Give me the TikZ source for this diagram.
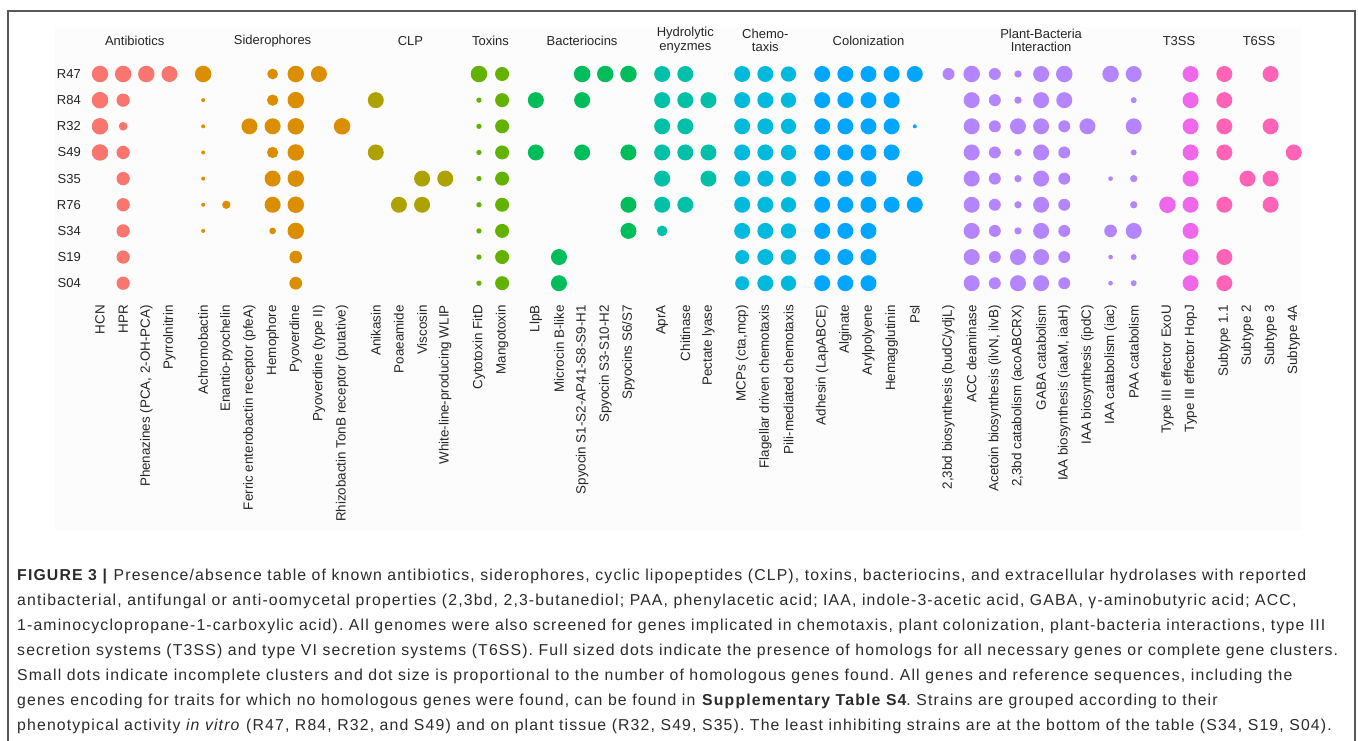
\documentclass[tikz,border=0pt]{standalone}
\usepackage{fontspec}
\setmainfont{Liberation Sans}
\newfontfamily\capfont[LetterSpace=7.3]{Liberation Sans}
\frenchspacing
\definecolor{g0}{HTML}{F8766D}
\definecolor{g1}{HTML}{DB8E00}
\definecolor{g2}{HTML}{AEA200}
\definecolor{g3}{HTML}{64B200}
\definecolor{g4}{HTML}{00BD5C}
\definecolor{g5}{HTML}{00C1A7}
\definecolor{g6}{HTML}{00BADE}
\definecolor{g7}{HTML}{00A6FF}
\definecolor{g8}{HTML}{B385FF}
\definecolor{g9}{HTML}{EF67EB}
\definecolor{g10}{HTML}{FF63B6}
\definecolor{txt}{HTML}{262626}
\definecolor{captext}{HTML}{2B2B2B}
\begin{document}
\begin{tikzpicture}[x=1pt,y=-1pt,
  dotn/.style={circle,inner sep=0pt,minimum size=#1,draw=none},
  rowlab/.style={anchor=east,inner sep=0pt,font=\fontsize{13}{15}\selectfont,text=txt},
  collab/.style={rotate=90,anchor=east,inner sep=0pt,font=\fontsize{13.4}{15}\selectfont,text=txt},
  grplab/.style={align=center,inner sep=0pt,font=\fontsize{13}{13.5}\selectfont,text=txt},
  captxt/.style={anchor=base west,inner sep=0pt,font=\capfont\fontsize{15.8}{18}\selectfont,text=captext}]
\useasboundingbox (0,0) rectangle (1358,740);
\fill[white] (0,0) rectangle (1358,740);
\fill[black!1] (55,27) rectangle (1302,530);
\draw[black!65,line width=1.3pt] (8,741) |- (1355,11) -- (1355,741);

% row labels
\foreach \lab [count=\i from 0] in {R47,R84,R32,S49,S35,R76,S34,S19,S04}
  \node[rowlab] (r\i) at (81,{74+26.15*\i}) {\lab};

% group labels
\node[grplab] (gl0) at (134.7,40.7) {Antibiotics};
\node[grplab] (gl1) at (272.6,40.7) {Siderophores};
\node[grplab] (gl2) at (410.5,40.7) {CLP};
\node[grplab] (gl3) at (490.5,40.7) {Toxins};
\node[grplab] (gl4) at (582.1,40.7) {Bacteriocins};
\node[grplab] (gl5) at (685.3,40.2) {Hydrolytic\\enyzmes};
\node[grplab] (gl6) at (765.3,40.2) {Chemo-\\taxis};
\node[grplab] (gl7) at (868.5,40.7) {Colonization};
\node[grplab] (gl8) at (1041.1,40.2) {Plant-Bacteria\\Interaction};
\node[grplab] (gl9) at (1179.0,40.7) {T3SS};
\node[grplab] (gl10) at (1259.0,40.7) {T6SS};

% column labels
\foreach \k/\g/\lab in {
 0/0/{HCN},1/0/{HPR},2/0/{Phenazines (PCA, 2-OH-PCA)},3/0/{Pyrrolnitrin},
 4/1/{Achromobactin},5/1/{Enantio-pyochelin},6/1/{Ferric enterobactin receptor (pfeA)},
 7/1/{Hemophore},8/1/{Pyoverdine},9/1/{Pyoverdine (type II)},10/1/{Rhizobactin TonB receptor (putative)},
 11/2/{Anikasin},12/2/{Poaeamide},13/2/{Viscosin},14/2/{White-line-producing WLIP},
 15/3/{Cytotoxin FitD},16/3/{Mangotoxin},
 17/4/{LlpB},18/4/{Microcin B-like},19/4/{Spyocin S1-S2-AP41-S8-S9-H1},20/4/{Spyocin S3-S10-H2},21/4/{Spyocins S6/S7},
 22/5/{AprA},23/5/{Chitinase},24/5/{Pectate lyase},
 25/6/{MCPs (cta,mcp)},26/6/{Flagellar driven chemotaxis},27/6/{Pili-mediated chemotaxis},
 28/7/{Adhesin (LapABCE)},29/7/{Alginate},30/7/{Arylpolyene},31/7/{Hemagglutinin},32/7/{Psl},
 33/8/{2,3bd biosynthesis (budC/ydjL)},34/8/{ACC deaminase},35/8/{Acetoin biosynthesis (ilvN, ilvB)},
 36/8/{2,3bd catabolism (acoABCRX)},37/8/{GABA catabolism},38/8/{IAA biosynthesis (iaaM, iaaH)},
 39/8/{IAA biosynthesis (ipdC)},40/8/{IAA catabolism (iac)},41/8/{PAA catabolism},
 42/9/{Type III effector ExoU},43/9/{Type III effector HopJ},
 44/10/{Subtype 1.1},45/10/{Subtype 2},46/10/{Subtype 3},47/10/{Subtype 4A}}
{
  \pgfmathsetmacro\cx{100+23.15*\k+10.57*\g}
  \node[collab] (l\k) at (\cx,305) {\lab};
}

% dots: row/column/group/diameter
\foreach \r/\k/\g/\d in {
 0/0/0/16.5,0/1/0/16.5,0/2/0/16.5,0/3/0/16,
 0/4/1/16.5,0/7/1/10.7,0/8/1/16.5,0/9/1/16,
 0/15/3/16.5,0/16/3/14,
 0/19/4/16.5,0/20/4/16.5,0/21/4/16.5,
 0/22/5/16,0/23/5/16,
 0/25/6/16,0/26/6/16,0/27/6/15.3,
 0/28/7/16,0/29/7/16,0/30/7/16,0/31/7/16,0/32/7/16,
 0/33/8/12,0/34/8/16.5,0/35/8/12,0/36/8/7.3,0/37/8/16,0/38/8/16.5,0/40/8/16.5,0/41/8/16,
 0/43/9/16,0/44/10/16,0/46/10/16,
 1/0/0/16.5,1/1/0/13.3,
 1/4/1/4,1/7/1/11.3,1/8/1/16.5,
 1/11/2/16,
 1/15/3/5.3,1/16/3/14,
 1/17/4/16,1/19/4/16,
 1/22/5/16,1/23/5/16,1/24/5/16,
 1/25/6/16,1/26/6/16,1/27/6/15.3,
 1/28/7/16,1/29/7/16,1/30/7/16,1/31/7/16,
 1/34/8/16,1/35/8/12,1/36/8/7.3,1/37/8/16,1/38/8/16,1/41/8/6,
 1/43/9/16,1/44/10/16,
 2/0/0/16.5,2/1/0/8.7,
 2/4/1/4,2/6/1/16,2/7/1/16,2/8/1/16.5,2/10/1/16.5,
 2/15/3/5.3,2/16/3/14,
 2/22/5/16,2/23/5/16,
 2/25/6/16,2/26/6/16,2/27/6/15.3,
 2/28/7/16,2/29/7/16,2/30/7/16,2/31/7/16,2/32/7/4,
 2/34/8/16,2/35/8/12,2/36/8/16,2/37/8/16,2/38/8/12,2/39/8/16,2/41/8/16,
 2/43/9/16,2/44/10/16,2/46/10/16,
 3/0/0/16.5,3/1/0/13.3,
 3/4/1/4,3/7/1/11.3,3/8/1/16.5,
 3/11/2/16,
 3/15/3/5.3,3/16/3/14,
 3/17/4/16,3/19/4/16,3/21/4/16,
 3/22/5/16,3/23/5/16,3/24/5/16,
 3/25/6/16,3/26/6/16,3/27/6/15.3,
 3/28/7/16,3/29/7/16,3/30/7/16,3/31/7/16,
 3/34/8/16,3/35/8/12,3/36/8/7.3,3/37/8/16,3/38/8/12,3/41/8/6,
 3/43/9/16,3/44/10/16,3/47/10/16,
 4/1/0/13.3,
 4/4/1/4,4/7/1/16,4/8/1/16.5,
 4/13/2/16,4/14/2/16,
 4/15/3/5.3,4/16/3/14,
 4/22/5/16,4/24/5/16,
 4/25/6/16,4/26/6/16,4/27/6/15.3,
 4/28/7/16,4/29/7/16,4/30/7/16,4/32/7/16,
 4/34/8/16,4/35/8/12,4/36/8/7.3,4/37/8/16,4/38/8/12,4/40/8/4.7,4/41/8/7.3,
 4/43/9/16,4/45/10/16,4/46/10/16,
 5/1/0/13.3,
 5/4/1/4,5/5/1/8.3,5/7/1/16,5/8/1/16.5,
 5/12/2/16,5/13/2/16,
 5/15/3/5.3,5/16/3/14,
 5/21/4/16,
 5/22/5/16,5/23/5/16,
 5/25/6/16,5/26/6/16,5/27/6/15.3,
 5/28/7/16,5/29/7/16,5/30/7/16,5/31/7/16,5/32/7/16,
 5/34/8/16,5/35/8/12,5/36/8/7.3,5/37/8/16,5/38/8/12,5/41/8/7.3,
 5/42/9/16.5,5/43/9/16,5/44/10/16,5/46/10/16,
 6/1/0/13.3,
 6/4/1/4,6/7/1/6.7,6/8/1/16.5,
 6/15/3/5.3,6/16/3/14,
 6/21/4/16,
 6/22/5/10.7,
 6/25/6/16,6/26/6/16,6/27/6/15.3,
 6/28/7/16,6/29/7/16,6/30/7/16,
 6/34/8/16,6/35/8/12,6/36/8/7.3,6/37/8/16,6/38/8/12,6/40/8/12.7,6/41/8/16,
 6/43/9/16,
 7/1/0/13.3,
 7/8/1/12.7,
 7/15/3/5.3,7/16/3/14,
 7/18/4/16,
 7/25/6/14,7/26/6/16,7/27/6/15.3,
 7/28/7/16,7/29/7/16,7/30/7/16,
 7/34/8/16,7/35/8/12,7/36/8/16,7/37/8/16,7/38/8/12,7/40/8/4.7,7/41/8/6,
 7/43/9/16,7/44/10/16,
 8/1/0/13.3,
 8/8/1/12.7,
 8/15/3/5.3,8/16/3/14,
 8/18/4/16,
 8/25/6/14,8/26/6/16,8/27/6/15.3,
 8/28/7/16,8/29/7/16,8/30/7/16,
 8/34/8/16,8/35/8/12,8/36/8/16,8/37/8/16,8/38/8/12,8/40/8/4.7,8/41/8/6,
 8/43/9/16,8/44/10/16}
{
  \pgfmathsetmacro\cx{100+23.15*\k+10.57*\g}
  \node[dotn=\d pt,fill=g\g] (d-\r-\k) at (\cx,{74+26.15*\r}) {};
}

% caption
\node[captxt] (cap1) at (17,580.5) {\textbf{FIGURE 3 |} Presence/absence table of known antibiotics, siderophores, cyclic lipopeptides (CLP), toxins, bacteriocins, and extracellular hydrolases with reported};
\node[captxt] (cap2) at (17,605.5) {antibacterial, antifungal or anti-oomycetal properties (2,3bd, 2,3-butanediol; PAA, phenylacetic acid; IAA, indole-3-acetic acid, GABA, γ-aminobutyric acid; ACC,};
\node[captxt] (cap3) at (17,630.5) {1-aminocyclopropane-1-carboxylic acid). All genomes were also screened for genes implicated in chemotaxis, plant colonization, plant-bacteria interactions, type III};
\node[captxt] (cap4) at (17,655.5) {secretion systems (T3SS) and type VI secretion systems (T6SS). Full sized dots indicate the presence of homologs for all necessary genes or complete gene clusters.};
\node[captxt] (cap5) at (17,680.5) {Small dots indicate incomplete clusters and dot size is proportional to the number of homologous genes found. All genes and reference sequences, including the};
\node[captxt] (cap6) at (17,705.5) {genes encoding for traits for which no homologous genes were found, can be found in \textbf{Supplementary Table S4}. Strains are grouped according to their};
\node[captxt] (cap7) at (17,730.5) {phenotypical activity \textit{in vitro} (R47, R84, R32, and S49) and on plant tissue (R32, S49, S35). The least inhibiting strains are at the bottom of the table (S34, S19, S04).};
\end{tikzpicture}
\end{document}
